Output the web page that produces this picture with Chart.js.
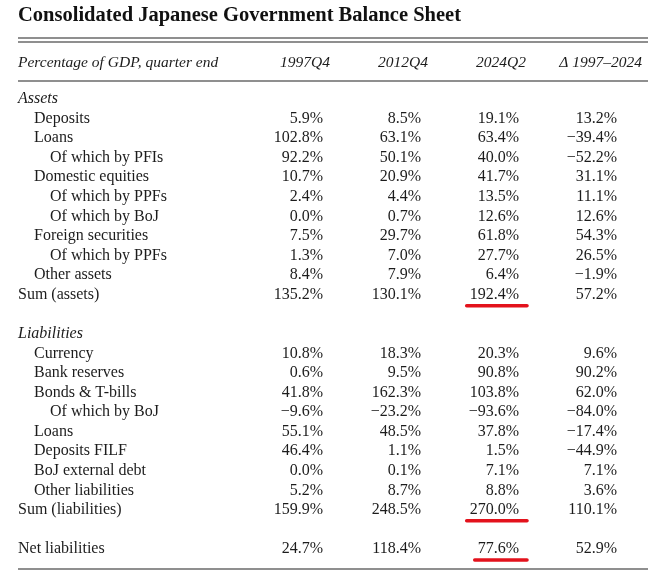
<!DOCTYPE html>
<html>
<head>
<meta charset="utf-8">
<script src="https://cdn.jsdelivr.net/npm/chart.js@4.4.1/dist/chart.umd.min.js"></script>
<style>
  html, body { margin: 0; padding: 0; background: #fff; }
  #wrap { width: 660px; height: 584px; position: relative; }
</style>
</head>
<body>
<div id="wrap"><canvas id="sheet"></canvas></div>
<script>
const title = 'Consolidated Japanese Government Balance Sheet';
const stubHeader = 'Percentage of GDP, quarter end';
const columns = ['1997Q4', '2012Q4', '2024Q2', '\u0394 1997\u20132024'];

const rowLabels = [
  'Assets', 'Deposits', 'Loans', 'Of which by PFIs', 'Domestic equities',
  'Of which by PPFs', 'Of which by BoJ', 'Foreign securities', 'Of which by PPFs',
  'Other assets', 'Sum (assets)', '',
  'Liabilities', 'Currency', 'Bank reserves', 'Bonds & T-bills', 'Of which by BoJ',
  'Loans', 'Deposits FILF', 'BoJ external debt', 'Other liabilities', 'Sum (liabilities)', '',
  'Net liabilities'
];
// nesting level of each row label
const rowDepth = [0, 1, 1, 2, 1, 2, 2, 1, 2, 1, 0, 0, 0, 1, 1, 1, 2, 1, 1, 1, 1, 0, 0, 0];
const sectionRows = ['Assets', 'Liabilities'];

const v1997Q4 = [null, 5.9, 102.8, 92.2, 10.7, 2.4, 0.0, 7.5, 1.3, 8.4, 135.2, null,
  null, 10.8, 0.6, 41.8, -9.6, 55.1, 46.4, 0.0, 5.2, 159.9, null, 24.7];
const v2012Q4 = [null, 8.5, 63.1, 50.1, 20.9, 4.4, 0.7, 29.7, 7.0, 7.9, 130.1, null,
  null, 18.3, 9.5, 162.3, -23.2, 48.5, 1.1, 0.1, 8.7, 248.5, null, 118.4];
const v2024Q2 = [null, 19.1, 63.4, 40.0, 41.7, 13.5, 12.6, 61.8, 27.7, 6.4, 192.4, null,
  null, 20.3, 90.8, 103.8, -93.6, 37.8, 1.5, 7.1, 8.8, 270.0, null, 77.6];
const vDelta = [null, 13.2, -39.4, -52.2, 31.1, 11.1, 12.6, 54.3, 26.5, -1.9, 57.2, null,
  null, 9.6, 90.2, 62.0, -84.0, -17.4, -44.9, 7.1, 3.6, 110.1, null, 52.9];

// cells underlined in red (column 2024Q2)
const markedColumn = 2;
const markedRows = [10, 21, 23];

const seriesValues = [v1997Q4, v2012Q4, v2024Q2, vDelta];

const INK = '#1c1c1c';
const SERIF = '"Liberation Serif", "DejaVu Serif", serif';

function fmt(v) {
  const s = Math.abs(v).toFixed(1) + '%';
  return v < 0 ? '\u2212' + s : s;
}

const tablePlugin = {
  id: 'tableText',
  afterDatasetsDraw(chart) {
    const { ctx, chartArea: area, scales: { y } } = chart;
    const firstRow = y.getPixelForValue(0);
    const lastRow = y.getPixelForValue(rowLabels.length - 1);
    ctx.save();

    // title
    ctx.fillStyle = '#111';
    ctx.textAlign = 'left';
    ctx.textBaseline = 'alphabetic';
    ctx.font = 'bold 20.5px ' + SERIF;
    ctx.fillText(title, area.left, 21);

    // rules
    ctx.strokeStyle = '#6a6a6a';
    ctx.lineWidth = 1.5;
    [firstRow - 61, firstRow - 57, firstRow - 18, lastRow + 20].forEach(py => {
      ctx.beginPath();
      ctx.moveTo(area.left, py);
      ctx.lineTo(area.right, py);
      ctx.stroke();
    });

    // header row
    const headY = firstRow - 36;
    ctx.fillStyle = INK;
    ctx.textBaseline = 'middle';
    ctx.font = 'italic 15.5px ' + SERIF;
    ctx.fillText(stubHeader, area.left, headY);
    ctx.textAlign = 'right';
    chart.data.datasets.forEach((ds, c) => {
      const meta = chart.getDatasetMeta(c);
      const px = meta.data[0].x;
      const shift = c === columns.length - 1 ? 25 : 7;
      ctx.fillText(ds.label, px + shift, headY);
    });

    // row labels
    ctx.textAlign = 'left';
    rowLabels.forEach((lab, i) => {
      if (!lab) return;
      const italic = sectionRows.includes(lab);
      ctx.font = (italic ? 'italic ' : '') + '16px ' + SERIF;
      ctx.fillText(lab, area.left + rowDepth[i] * 16, y.getPixelForValue(i));
    });

    // cell values, placed at each point of the datasets
    ctx.font = '16px ' + SERIF;
    ctx.textAlign = 'right';
    chart.data.datasets.forEach((ds, c) => {
      const meta = chart.getDatasetMeta(c);
      meta.data.forEach((pt, j) => {
        const raw = ds.data[j];
        const txt = fmt(raw.v);
        ctx.fillStyle = INK;
        ctx.fillText(txt, pt.x, pt.y);
        if (c === markedColumn && markedRows.includes(raw.y)) {
          const w = ctx.measureText(txt).width;
          ctx.strokeStyle = '#e3121c';
          ctx.lineWidth = 3.5;
          ctx.lineCap = 'round';
          ctx.beginPath();
          ctx.moveTo(pt.x - w - 3, pt.y + 11);
          ctx.lineTo(pt.x + 8, pt.y + 11);
          ctx.stroke();
        }
      });
    });
    ctx.restore();
  }
};

const datasets = columns.map((label, c) => ({
  label,
  data: seriesValues[c]
    .map((v, i) => (v === null ? null : { x: c + 1, y: i, v }))
    .filter(p => p !== null),
  pointRadius: 0,
  pointHoverRadius: 0,
  showLine: false
}));

new Chart(document.getElementById('sheet'), {
  type: 'scatter',
  data: { datasets },
  options: {
    responsive: true,
    maintainAspectRatio: false,
    animation: false,
    events: [],
    layout: { padding: { top: 99, bottom: 35, left: 18, right: 12 } },
    plugins: {
      legend: { display: false },
      tooltip: { enabled: false },
      title: { display: false }
    },
    scales: {
      x: { type: 'linear', display: false, min: -2.112, max: 4.316 },
      y: { type: 'linear', display: false, reverse: true, min: 0, max: rowLabels.length - 1 }
    }
  },
  plugins: [tablePlugin]
});
</script>
</body>
</html>
